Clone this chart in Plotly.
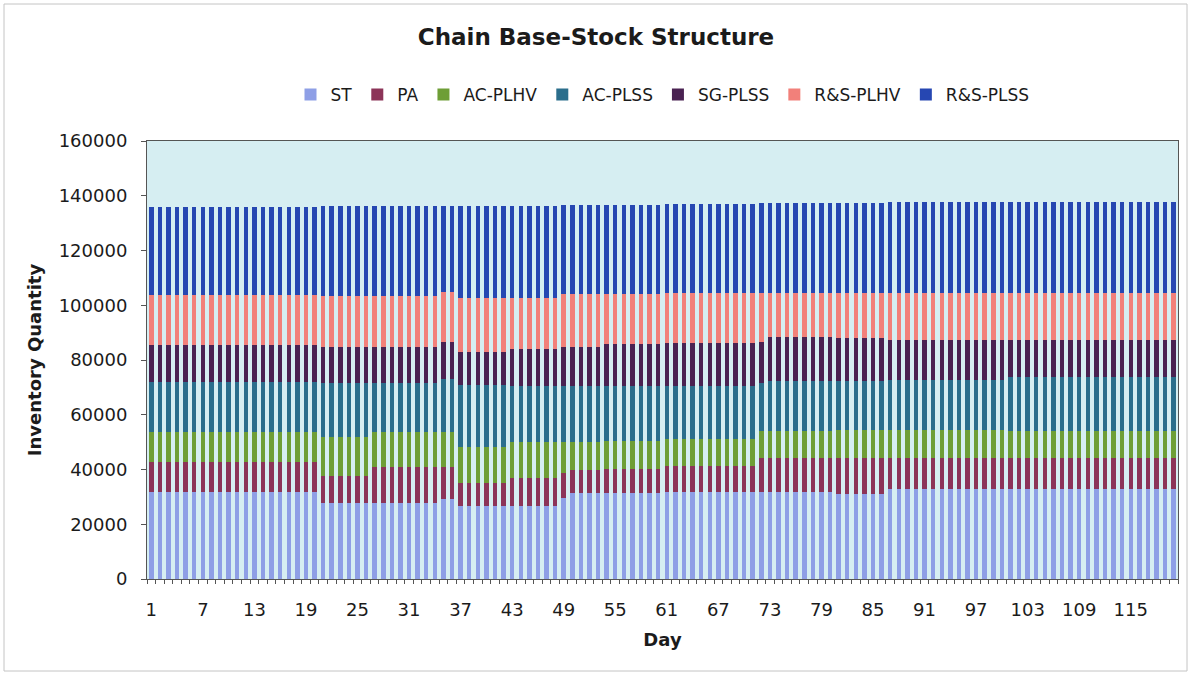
import plotly.graph_objects as go

# Day index 1..120
days = list(range(1, 121))

# Inventory per echelon per day (stacked from bottom to top)
st = [
    31800, 31800, 31800, 31800, 31800, 31800, 31800, 31800, 31800, 31800,
    31800, 31800, 31800, 31800, 31800, 31800, 31800, 31800, 31800, 31800,
    27800, 27800, 27800, 27800, 27800, 27800, 27800, 27800, 27800, 27800,
    27800, 27800, 27800, 27800, 29200, 29200, 26500, 26500, 26500, 26500,
    26500, 26500, 26600, 26600, 26600, 26600, 26600, 26600, 29600, 31600,
    31600, 31600, 31600, 31600, 31600, 31600, 31600, 31600, 31600, 31600,
    31700, 31700, 31700, 31700, 31700, 31700, 31700, 31700, 31700, 31700,
    31700, 31800, 31800, 31800, 31800, 31800, 31800, 31800, 31800, 31800,
    30900, 30900, 30900, 30900, 30900, 30900, 33000, 33000, 33000, 33000,
    33000, 33000, 33000, 33000, 33000, 33000, 33000, 33000, 33000, 33000,
    33000, 33000, 33000, 33000, 33000, 33000, 33000, 33000, 33000, 33000,
    33000, 33000, 33000, 33000, 33000, 33000, 33000, 33000, 33000, 33000,
]
pa = [
    11100, 11100, 11100, 11100, 11100, 11100, 11100, 11100, 11100, 11100,
    11100, 11100, 11100, 11100, 11100, 11100, 11100, 11100, 11100, 11100,
    9800, 9800, 9800, 9800, 9800, 9800, 13200, 13200, 13200, 13200,
    13200, 13200, 13200, 13200, 11800, 11800, 8500, 8500, 8500, 8500,
    8500, 8500, 10200, 10200, 10200, 10200, 10200, 10200, 9200, 8400,
    8400, 8400, 8400, 8600, 8600, 8600, 8600, 8600, 8600, 8600,
    9700, 9700, 9700, 9700, 9700, 9700, 9700, 9700, 9700, 9700,
    9700, 12400, 12400, 12400, 12400, 12400, 12400, 12400, 12400, 12400,
    13200, 13200, 13200, 13200, 13200, 13200, 11100, 11100, 11100, 11100,
    11100, 11100, 11100, 11100, 11100, 11100, 11100, 11100, 11100, 11100,
    11100, 11100, 11100, 11100, 11100, 11100, 11100, 11100, 11100, 11100,
    11100, 11100, 11100, 11100, 11100, 11100, 11100, 11100, 11100, 11100,
]
ac_plhv = [
    10900, 10900, 10900, 10900, 10900, 10900, 10900, 10900, 10900, 10900,
    10900, 10900, 10900, 10900, 10900, 10900, 10900, 10900, 10900, 10900,
    14400, 14400, 14400, 14400, 14400, 14400, 12800, 12800, 12800, 12800,
    12800, 12800, 12800, 12800, 12600, 12600, 13300, 13300, 13300, 13300,
    13300, 13300, 13200, 13200, 13200, 13200, 13200, 13200, 11400, 10200,
    10200, 10200, 10200, 10200, 10200, 10200, 10200, 10200, 10200, 10200,
    9600, 9600, 9600, 9600, 9600, 9600, 9600, 9600, 9600, 9600,
    9600, 10000, 10000, 10000, 10000, 10000, 10000, 10000, 10000, 10000,
    10200, 10200, 10200, 10200, 10200, 10200, 10200, 10200, 10200, 10200,
    10200, 10200, 10200, 10200, 10200, 10200, 10200, 10200, 10200, 10200,
    10000, 10000, 10000, 10000, 10000, 10000, 10000, 10000, 10000, 10000,
    10000, 10000, 10000, 10000, 10000, 10000, 10000, 10000, 10000, 10000,
]
ac_plss = [
    18300, 18300, 18300, 18300, 18300, 18300, 18300, 18300, 18300, 18300,
    18300, 18300, 18300, 18300, 18300, 18300, 18300, 18300, 18300, 18300,
    19500, 19500, 19500, 19500, 19500, 19500, 17700, 17700, 17700, 17700,
    17700, 17700, 17700, 17700, 19600, 19600, 22500, 22500, 22500, 22500,
    22500, 22500, 20500, 20500, 20500, 20500, 20500, 20500, 20300, 20300,
    20300, 20300, 20300, 20100, 20100, 20100, 20100, 20100, 20100, 20100,
    19600, 19600, 19600, 19600, 19600, 19600, 19600, 19600, 19600, 19600,
    19600, 17400, 18200, 18200, 18200, 18200, 18200, 18200, 18200, 18200,
    17900, 17900, 17900, 17900, 17900, 17900, 18500, 18500, 18500, 18500,
    18500, 18500, 18500, 18500, 18500, 18500, 18500, 18500, 18500, 18500,
    19700, 19700, 19700, 19700, 19700, 19700, 19700, 19700, 19700, 19700,
    19700, 19700, 19700, 19700, 19700, 19700, 19700, 19700, 19700, 19700,
]
sg_plss = [
    13400, 13400, 13400, 13400, 13400, 13400, 13400, 13400, 13400, 13400,
    13400, 13400, 13400, 13400, 13400, 13400, 13400, 13400, 13400, 13400,
    13400, 13400, 13400, 13400, 13400, 13400, 13400, 13400, 13400, 13400,
    13400, 13400, 13400, 13400, 13400, 13400, 12200, 12200, 12200, 12200,
    12200, 12200, 13500, 13500, 13500, 13500, 13500, 13500, 14400, 14400,
    14400, 14400, 14400, 15500, 15500, 15500, 15500, 15500, 15500, 15500,
    15600, 15600, 15600, 15600, 15600, 15600, 15600, 15600, 15600, 15600,
    15600, 14800, 15900, 15900, 15900, 15900, 15900, 15900, 15900, 15900,
    15700, 15700, 15700, 15700, 15700, 15700, 14500, 14500, 14500, 14500,
    14500, 14500, 14500, 14500, 14500, 14500, 14500, 14500, 14500, 14500,
    13500, 13500, 13500, 13500, 13500, 13500, 13500, 13500, 13500, 13500,
    13500, 13500, 13500, 13500, 13500, 13500, 13500, 13500, 13500, 13500,
]
rs_plhv = [
    18100, 18100, 18100, 18100, 18100, 18100, 18100, 18100, 18100, 18100,
    18100, 18100, 18100, 18100, 18100, 18100, 18100, 18100, 18100, 18100,
    18400, 18400, 18400, 18400, 18400, 18400, 18400, 18400, 18400, 18400,
    18400, 18400, 18400, 18400, 18300, 18300, 19500, 19500, 19500, 19500,
    19500, 19500, 18600, 18600, 18600, 18600, 18600, 18600, 19100, 19300,
    19300, 19300, 19300, 18200, 18200, 18200, 18200, 18200, 18200, 18200,
    18100, 18100, 18100, 18100, 18100, 18100, 18100, 18100, 18100, 18100,
    18100, 18000, 16100, 16100, 16100, 16100, 16100, 16100, 16100, 16100,
    16500, 16500, 16500, 16500, 16500, 16500, 17100, 17100, 17100, 17100,
    17100, 17100, 17100, 17100, 17100, 17100, 17100, 17100, 17100, 17100,
    17200, 17200, 17200, 17200, 17200, 17200, 17200, 17200, 17200, 17200,
    17200, 17200, 17200, 17200, 17200, 17200, 17200, 17200, 17200, 17200,
]
rs_plss = [
    32400, 32400, 32400, 32400, 32400, 32400, 32400, 32400, 32400, 32400,
    32400, 32400, 32400, 32400, 32400, 32400, 32400, 32400, 32400, 32400,
    32800, 32800, 32800, 32800, 32800, 32800, 32900, 32900, 32900, 32900,
    32900, 32900, 32900, 32900, 31400, 31400, 33800, 33800, 33800, 33800,
    33800, 33800, 33800, 33800, 33800, 33800, 33800, 33800, 32500, 32400,
    32400, 32400, 32400, 32600, 32600, 32600, 32600, 32600, 32600, 32600,
    32800, 32800, 32800, 32800, 32800, 32800, 32800, 32800, 32800, 32800,
    32800, 32800, 32900, 32900, 32900, 32900, 32900, 32900, 32900, 32900,
    33100, 33100, 33100, 33100, 33100, 33100, 33200, 33200, 33200, 33200,
    33200, 33200, 33200, 33200, 33200, 33200, 33200, 33200, 33200, 33200,
    33300, 33300, 33300, 33300, 33300, 33300, 33300, 33300, 33300, 33300,
    33300, 33300, 33300, 33300, 33300, 33300, 33300, 33300, 33300, 33300,
]

series_names = ["ST", "PA", "AC-PLHV", "AC-PLSS", "SG-PLSS", "R&S-PLHV", "R&S-PLSS"]
series_values = [st, pa, ac_plhv, ac_plss, sg_plss, rs_plhv, rs_plss]
series_colors = ["#8E9FE6", "#8C3458", "#6E9E36", "#2B6E8C", "#4A2252", "#F2807A", "#2647B2"]

day_ticks = list(range(1, 121, 6))
y_ticks = list(range(0, 160001, 20000))

FONT = "DejaVu Sans"
TEXT = "#1b1b1b"

fig = go.Figure()
for name, vals, col in zip(series_names, series_values, series_colors):
    fig.add_trace(go.Bar(x=days, y=vals, name=name, marker=dict(color=col, line=dict(width=0))))

fig.update_layout(
    width=1192,
    height=677,
    barmode="stack",
    bargap=0.48,
    paper_bgcolor="white",
    plot_bgcolor="#D6EEF2",
    margin=dict(l=147, r=14, t=141, b=98, autoexpand=False),
    font=dict(family=FONT, size=18, color=TEXT),
    title=dict(
        text="Chain Base-Stock Structure",
        x=0.5, xanchor="center",
        y=1 - 37 / 677, yanchor="middle",
        font=dict(family=FONT, size=23, color=TEXT, weight="bold"),
    ),
    legend=dict(
        orientation="h",
        x=0.5, xanchor="center",
        y=(579 - 95) / 438, yanchor="middle",
        font=dict(family=FONT, size=17, color=TEXT),
        traceorder="normal",
        bgcolor="rgba(0,0,0,0)",
    ),
    showlegend=True,
)

fig.update_xaxes(
    range=[0.5, 120.5],
    tickmode="array",
    tickvals=day_ticks,
    ticktext=[str(d) for d in day_ticks],
    ticks="",
    ticklabelstandoff=14,
    minor=dict(ticks="outside", ticklen=4, tickcolor="#555555", tickmode="linear", tick0=0.5, dtick=1),
    showgrid=False,
    showline=True, mirror=True, linecolor="#555555", linewidth=1,
    title=dict(text="Day", font=dict(family=FONT, size=18, color=TEXT, weight="bold"), standoff=14),
    tickfont=dict(family=FONT, size=18, color=TEXT),
    zeroline=False,
)
fig.update_yaxes(
    range=[0, 160000],
    tickmode="array",
    tickvals=y_ticks,
    ticktext=[str(v) for v in y_ticks],
    ticks="outside", ticklen=5, tickcolor="#555555",
    ticklabelstandoff=10,
    showgrid=False,
    showline=True, mirror=True, linecolor="#555555", linewidth=1,
    title=dict(text="Inventory Quantity", font=dict(family=FONT, size=18, color=TEXT, weight="bold"), standoff=12),
    tickfont=dict(family=FONT, size=18, color=TEXT),
    zeroline=False,
)

# thin frame around the whole chart area
fig.add_shape(
    type="rect", xref="paper", yref="paper",
    x0=(4 - 147) / 1031, x1=(1187 - 147) / 1031,
    y0=(579 - 671) / 438, y1=(579 - 4) / 438,
    line=dict(color="#C4C4C4", width=1),
    fillcolor="rgba(0,0,0,0)",
)

fig.write_html("out.html")
